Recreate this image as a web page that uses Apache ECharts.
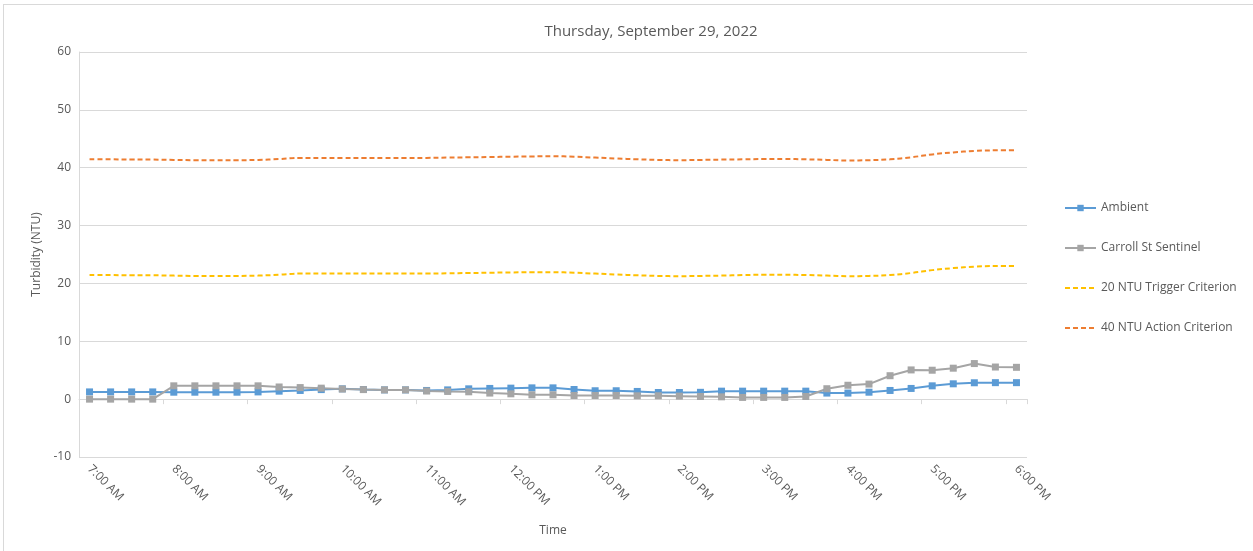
<!DOCTYPE html>
<html>
<head>
<meta charset="utf-8">
<script src="https://cdn.jsdelivr.net/npm/echarts@6/dist/echarts.min.js"></script>
<style>
  html, body { margin: 0; padding: 0; background: #fff; }
  #wrap { position: relative; width: 1253px; height: 551px; overflow: hidden; }
  #frame { position: absolute; left: 3px; top: 4px; width: 1300px; height: 600px; border-left: 1px solid #d9d9d9; border-top: 1px solid #d9d9d9; box-sizing: border-box; pointer-events: none; }
  #chart { position: absolute; left: 0; top: 0; width: 1253px; height: 551px; }
</style>
</head>
<body>
<div id="wrap">
  <div id="chart"></div>
  <div id="frame"></div>
</div>
<script>
const times = [
  "7:00 AM","7:15 AM","7:30 AM","7:45 AM","8:00 AM","8:15 AM","8:30 AM","8:45 AM",
  "9:00 AM","9:15 AM","9:30 AM","9:45 AM","10:00 AM","10:15 AM","10:30 AM","10:45 AM",
  "11:00 AM","11:15 AM","11:30 AM","11:45 AM","12:00 PM","12:15 PM","12:30 PM","12:45 PM",
  "1:00 PM","1:15 PM","1:30 PM","1:45 PM","2:00 PM","2:15 PM","2:30 PM","2:45 PM",
  "3:00 PM","3:15 PM","3:30 PM","3:45 PM","4:00 PM","4:15 PM","4:30 PM","4:45 PM",
  "5:00 PM","5:15 PM","5:30 PM","5:45 PM","6:00 PM"
];
const ambient = [
  1.25,1.25,1.25,1.25,1.2,1.2,1.2,1.2,1.25,1.38,1.5,1.65,1.78,1.67,1.6,1.6,
  1.5,1.6,1.78,1.85,1.9,1.95,1.95,1.67,1.45,1.45,1.33,1.15,1.15,1.18,1.38,1.38,
  1.38,1.38,1.38,1.05,1.05,1.2,1.5,1.85,2.3,2.65,2.83,2.85,2.85
];
const carroll = [
  0,0,0,0,2.3,2.3,2.3,2.3,2.3,2.1,2.0,1.9,1.75,1.65,1.6,1.6,
  1.4,1.33,1.27,1.05,0.92,0.75,0.75,0.63,0.63,0.63,0.58,0.58,0.52,0.46,0.4,0.3,
  0.3,0.3,0.46,1.8,2.4,2.6,4.05,5.05,5.0,5.35,6.15,5.55,5.5
];
const trigger20 = [
  21.45,21.45,21.4,21.4,21.35,21.3,21.3,21.3,21.35,21.5,21.7,21.7,21.7,21.7,21.7,21.7,
  21.7,21.75,21.8,21.85,21.9,21.95,21.95,21.85,21.7,21.55,21.4,21.3,21.25,21.3,21.35,21.45,
  21.5,21.5,21.45,21.35,21.25,21.3,21.45,21.8,22.3,22.65,22.9,23.0,23.0
];
const action40 = [
  41.45,41.45,41.4,41.4,41.35,41.3,41.3,41.3,41.35,41.5,41.7,41.7,41.7,41.7,41.7,41.7,
  41.7,41.75,41.8,41.85,41.9,41.95,42.0,41.9,41.75,41.6,41.45,41.35,41.3,41.35,41.4,41.45,
  41.5,41.5,41.45,41.35,41.25,41.3,41.45,41.8,42.3,42.65,42.9,43.0,43.0
];
const yTicks = { min: -10, max: 60, step: 10 };

const txt = '#595959';
const gridC = '#d9d9d9';
const font = '"Open Sans", "Liberation Sans", sans-serif';

const chart = echarts.init(document.getElementById('chart'), null, { renderer: 'canvas' });
chart.setOption({
  animation: false,
  backgroundColor: 'transparent',
  textStyle: { fontFamily: font, color: txt },
  title: {
    text: 'Thursday, September 29, 2022',
    left: 646, top: 19, textAlign: 'center',
    textStyle: { fontFamily: font, fontSize: 15, fontWeight: 'normal', color: txt }
  },
  legend: {
    orient: 'vertical',
    left: 1059, top: 197,
    itemWidth: 31, itemHeight: 8, itemGap: 28,
    textStyle: { fontFamily: font, fontSize: 12, color: txt },
    data: [
      { name: 'Ambient' },
      { name: 'Carroll St Sentinel' },
      { name: '20 NTU Trigger Criterion', itemStyle: { opacity: 0 } },
      { name: '40 NTU Action Criterion', itemStyle: { opacity: 0 } }
    ]
  },
  grid: { left: 79, right: 226, top: 52, bottom: 94, containLabel: false },
  xAxis: [
    {
      type: 'category', data: times, boundaryGap: true,
      axisLine: { onZero: true, lineStyle: { color: gridC, width: 1 } },
      axisTick: { show: true, interval: 3, length: 5, lineStyle: { color: gridC } },
      axisLabel: { show: false },
      splitLine: { show: false }
    },
    {
      type: 'category', data: times, boundaryGap: true, position: 'bottom',
      axisLine: { show: false, onZero: false },
      axisTick: { show: false },
      axisLabel: { show: true, interval: 3, rotate: -45, margin: 10, fontFamily: font, fontSize: 12, color: txt },
      splitLine: { show: false },
      name: 'Time', nameLocation: 'middle', nameGap: 68,
      nameTextStyle: { fontFamily: font, fontSize: 12, color: txt }
    }
  ],
  yAxis: {
    type: 'value', min: yTicks.min, max: yTicks.max, interval: yTicks.step,
    axisLine: { show: true, lineStyle: { color: gridC } },
    axisTick: { show: false },
    axisLabel: { margin: 8, fontFamily: font, fontSize: 12, color: txt },
    splitLine: { show: true, lineStyle: { color: gridC, width: 1 } },
    name: 'Turbidity (NTU)', nameLocation: 'middle', nameGap: 35,
    nameTextStyle: { fontFamily: font, fontSize: 12, color: txt }
  },
  series: [
    {
      name: 'Ambient', type: 'line', data: ambient, xAxisIndex: 0,
      symbol: 'rect', symbolSize: 7,
      itemStyle: { color: '#5B9BD5' },
      lineStyle: { color: '#5B9BD5', width: 2 }
    },
    {
      name: 'Carroll St Sentinel', type: 'line', data: carroll, xAxisIndex: 0,
      symbol: 'rect', symbolSize: 7,
      itemStyle: { color: '#A5A5A5' },
      lineStyle: { color: '#A5A5A5', width: 2 }
    },
    {
      name: '20 NTU Trigger Criterion', type: 'line', data: trigger20, xAxisIndex: 0,
      symbol: 'none', smooth: 0.4,
      itemStyle: { color: '#FFC000' },
      lineStyle: { color: '#FFC000', width: 2, type: [5, 3] }
    },
    {
      name: '40 NTU Action Criterion', type: 'line', data: action40, xAxisIndex: 0,
      symbol: 'none', smooth: 0.4,
      itemStyle: { color: '#ED7D31' },
      lineStyle: { color: '#ED7D31', width: 2, type: [5, 3] }
    }
  ]
});
</script>
</body>
</html>
